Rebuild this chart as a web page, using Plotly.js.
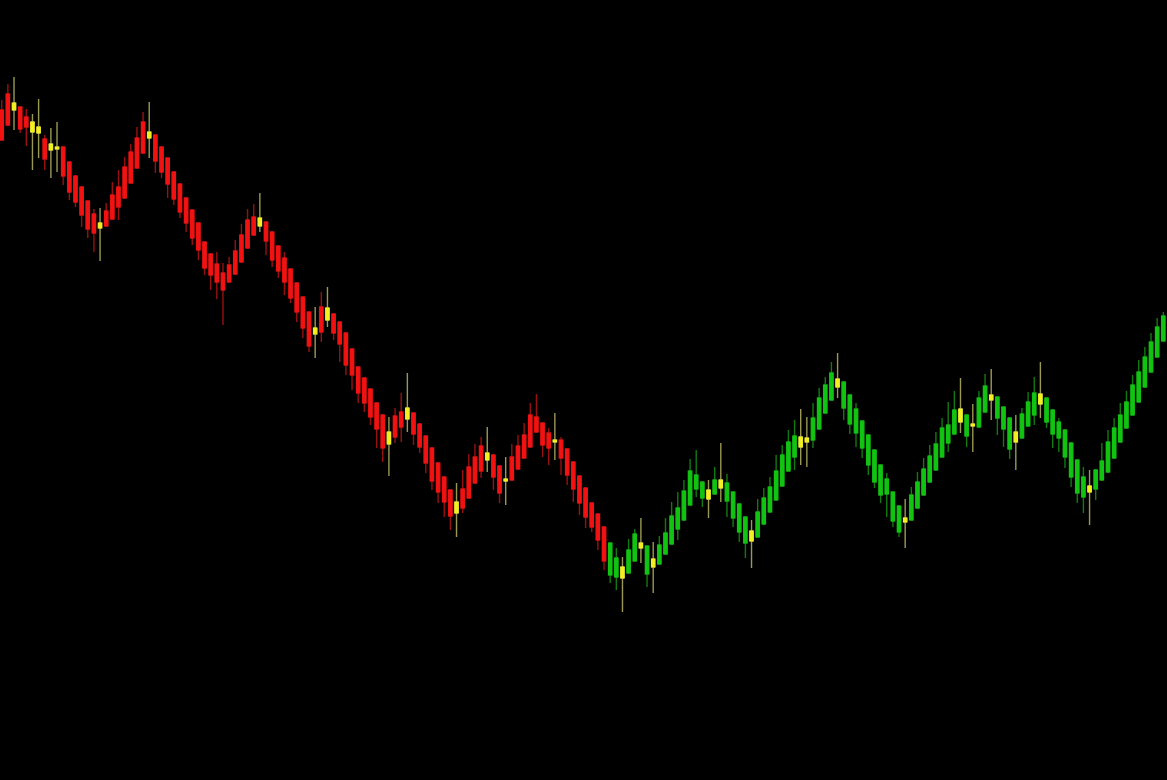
<!DOCTYPE html>
<html>
<head>
<meta charset="utf-8">
<script src="https://cdn.plot.ly/plotly-3.0.1.min.js"></script>
<style>
  html, body { margin: 0; padding: 0; background: #000; }
  #myDiv { width: 1167px; height: 780px; }
</style>
</head>
<body>
<div id="myDiv"></div>
<script>
// colour group of every bar: R = falling leg, G = rising leg, Y = small reversal bars
let kinds = ('RRYRRYYRYY' + 'RRRRRRYRRR' + 'RRRRYRRRRR' + 'RRRRRRRRRR' +
             'RRYRRRRRRR' + 'RYRYRRRRRR' + 'RRRYRRYRRR' + 'RRRRYRRRRY' +
             'RRYRRRRRRR' + 'YRRRRRRRRG' + 'GYGGYGYGGG' + 'GGGGGYGYGG' +
             'GGYGGGGGGG' + 'YYGGGGYGGG' + 'GGGGGGGYGG' + 'GGGGGGYGYG' +
             'GYGGGYGGGY' + 'GGGGGGGYGG' + 'GGGGGGGGGG').split('');

let opens = [
  640, 655, 677, 673, 663, 658, 653, 641, 636, 633,
  633, 618, 604, 593, 579, 566, 557, 554, 561, 573,
  582, 597, 612, 627, 648, 645, 633, 622, 608, 596,
  582, 570, 557, 538, 526, 516, 507, 498, 506, 518,
  532, 545, 562, 558, 548, 534, 522, 511, 497, 483,
  468, 446, 448, 472, 466, 458, 447, 431, 413, 402,
  391, 377, 365, 336, 343, 353, 372, 367, 356, 344,
  332, 317, 303, 290, 267, 272, 282, 297, 309, 327,
  325, 314, 299, 300, 311, 322, 333, 348, 357, 347,
  340, 340, 331, 318, 304, 292, 277, 266, 253, 237,
  222, 202, 207, 219, 237, 234, 213, 216, 226, 236,
  251, 260, 275, 291, 298, 281, 286, 300, 297, 288,
  276, 263, 239, 243, 256, 268, 280, 294, 309, 323,
  343, 338, 340, 351, 367, 380, 401, 398, 385, 371,
  359, 345, 330, 315, 301, 288, 274, 258, 260, 272,
  285, 298, 310, 323, 337, 346, 371, 365, 354, 353,
  368, 385, 383, 373, 362, 338, 342, 354, 365, 386,
  382, 370, 358, 350, 337, 320, 303, 288, 291, 300,
  308, 322, 338, 352, 365, 378, 393, 408, 423, 439
];

let highs = [
  680, 696, 703, 673, 671, 666, 681, 645, 652, 658,
  633, 618, 604, 593, 579, 571, 572, 577, 598, 610,
  623, 636, 653, 668, 678, 645, 633, 622, 608, 596,
  582, 570, 557, 538, 526, 528, 517, 523, 540, 556,
  571, 576, 587, 558, 548, 534, 528, 511, 497, 483,
  468, 473, 488, 493, 466, 458, 447, 431, 413, 402,
  391, 377, 365, 363, 372, 387, 407, 367, 356, 344,
  332, 317, 303, 290, 297, 310, 326, 336, 343, 353,
  325, 314, 323, 336, 345, 357, 377, 386, 357, 352,
  367, 343, 331, 318, 304, 292, 277, 266, 253, 237,
  232, 223, 241, 251, 262, 234, 238, 244, 262, 278,
  288, 300, 321, 330, 298, 300, 313, 337, 306, 288,
  276, 263, 260, 281, 292, 303, 325, 335, 350, 360,
  371, 363, 377, 392, 403, 418, 427, 398, 385, 377,
  359, 345, 330, 315, 307, 288, 274, 281, 293, 308,
  322, 335, 348, 362, 378, 389, 402, 365, 376, 389,
  406, 411, 383, 373, 362, 365, 372, 388, 403, 418,
  382, 370, 362, 350, 337, 320, 313, 310, 310, 337,
  350, 362, 377, 389, 405, 420, 433, 447, 462, 468
];

let lows = [
  640, 655, 650, 647, 634, 610, 622, 610, 602, 608,
  595, 580, 573, 553, 542, 528, 519, 554, 561, 560,
  582, 597, 612, 627, 622, 607, 602, 582, 575, 562,
  548, 535, 520, 505, 490, 481, 455, 498, 506, 518,
  532, 545, 548, 525, 513, 502, 485, 477, 458, 442,
  428, 422, 438, 453, 440, 418, 405, 390, 377, 368,
  355, 332, 318, 304, 337, 338, 348, 335, 327, 307,
  290, 277, 263, 250, 243, 267, 282, 297, 302, 308,
  290, 277, 275, 300, 311, 322, 333, 348, 323, 315,
  320, 305, 295, 278, 265, 252, 248, 230, 210, 197,
  190, 168, 207, 219, 217, 193, 187, 216, 226, 236,
  240, 260, 275, 283, 273, 262, 286, 278, 263, 253,
  238, 222, 212, 243, 256, 268, 280, 294, 309, 310,
  315, 313, 332, 351, 367, 380, 382, 360, 346, 333,
  322, 305, 292, 277, 263, 253, 243, 232, 260, 272,
  285, 298, 310, 323, 328, 346, 347, 333, 328, 353,
  368, 360, 345, 333, 321, 310, 342, 354, 355, 362,
  352, 332, 328, 312, 293, 277, 267, 255, 280, 300,
  308, 322, 338, 352, 365, 378, 393, 408, 423, 439
];

let closes = [
  670, 686, 670, 651, 653, 648, 647, 621, 630, 631,
  604, 588, 578, 565, 551, 547, 552, 569, 585, 593,
  613, 628, 642, 658, 642, 619, 608, 596, 581, 568,
  557, 542, 530, 512, 505, 498, 490, 515, 529, 545,
  560, 563, 554, 539, 520, 509, 498, 482, 468, 452,
  434, 452, 473, 460, 447, 436, 415, 405, 387, 377,
  363, 351, 332, 348, 364, 368, 361, 346, 333, 317,
  299, 288, 278, 264, 278, 291, 313, 323, 334, 320,
  303, 287, 301, 323, 334, 345, 365, 363, 335, 332,
  338, 322, 305, 291, 277, 263, 253, 240, 219, 205,
  203, 213, 230, 246, 232, 206, 221, 235, 247, 264,
  272, 289, 309, 305, 282, 290, 300, 292, 279, 262,
  248, 237, 249, 268, 282, 293, 309, 325, 338, 344,
  333, 342, 362, 382, 395, 407, 393, 372, 356, 347,
  332, 315, 298, 285, 286, 259, 248, 262, 285, 298,
  311, 324, 336, 352, 355, 370, 358, 344, 356, 382,
  394, 380, 362, 351, 331, 348, 366, 378, 387, 376,
  358, 346, 342, 323, 303, 287, 283, 294, 310, 319,
  338, 352, 365, 378, 395, 408, 423, 438, 453, 464
];

let colours = {
  R: {body: '#f21212', wick: '#9a1010'},
  G: {body: '#12c412', wick: '#117a11'},
  Y: {body: '#f4f020', wick: '#9a9852'}
};

// one trace draws the full bar in the wick colour, a second paints the body on top
function makeTraces(kind, bodyOnly) {
  let x = [], o = [], h = [], l = [], c = [];
  for (let i = 0; i < kinds.length; i++) {
    if (kinds[i] !== kind) continue;
    x.push(i);
    o.push(opens[i]);
    c.push(closes[i]);
    if (bodyOnly) {
      h.push(Math.max(opens[i], closes[i]));
      l.push(Math.min(opens[i], closes[i]));
    } else {
      h.push(highs[i]);
      l.push(lows[i]);
    }
  }
  let col = bodyOnly ? colours[kind].body : colours[kind].wick;
  let side = {line: {color: col, width: bodyOnly ? 1 : 1.4}, fillcolor: col};
  return {
    type: 'candlestick',
    x: x, open: o, high: h, low: l, close: c,
    increasing: side,
    decreasing: side,
    whiskerwidth: 0,
    showlegend: false,
    hoverinfo: 'skip'
  };
}

let data = [
  makeTraces('R', false), makeTraces('G', false), makeTraces('Y', false),
  makeTraces('R', true), makeTraces('G', true), makeTraces('Y', true)
];

let layout = {
  width: 1167,
  height: 780,
  margin: {l: 0, r: 0, t: 0, b: 0},
  paper_bgcolor: '#000000',
  plot_bgcolor: '#000000',
  boxgap: 0.22,
  xaxis: {
    range: [-0.28, 189.6],
    visible: false,
    showgrid: false,
    zeroline: false,
    rangeslider: {visible: false}
  },
  yaxis: {
    range: [0, 780],
    visible: false,
    showgrid: false,
    zeroline: false
  }
};

Plotly.newPlot('myDiv', data, layout, {displayModeBar: false, staticPlot: true});
</script>
</body>
</html>
